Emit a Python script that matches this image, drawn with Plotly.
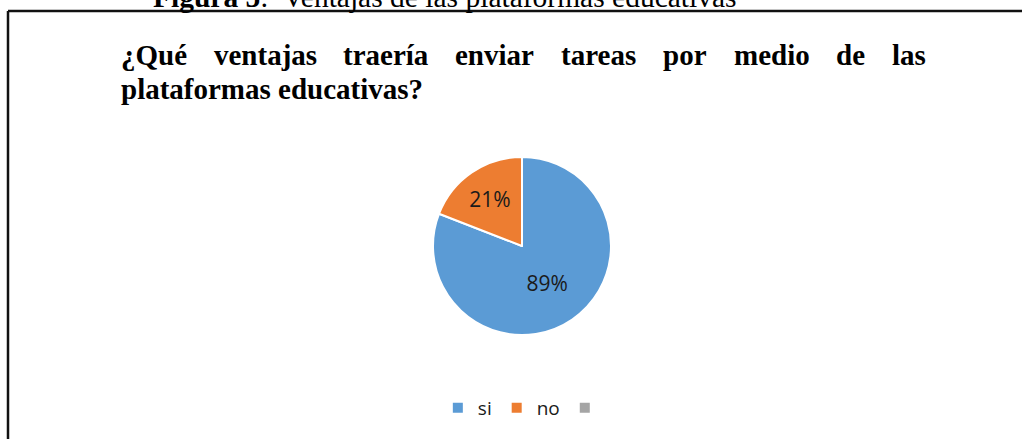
import plotly.graph_objects as go

# ---- data ----
labels = ["si", "no", " "]
values = [0.89, 0.21, 0]
colors = ["#5B9BD5", "#ED7D31", "#A5A5A5"]

title_line1 = ["¿Qué", "ventajas", "traería", "enviar", "tareas", "por", "medio", "de", "las"]
title_line1_x = [120, 213, 342, 454, 560, 662, 733, 835, 891]   # justified word positions (px)
title_line2 = "plataformas educativas?"
caption_bold = "Figura 5"
caption_rest = ":  Ventajas de las plataformas educativas"

W, H = 1022, 439


def px(x):
    return x / W


def py(y):
    return 1 - y / H


fig = go.Figure()
fig.add_trace(go.Pie(
    labels=labels,
    values=values,
    marker=dict(colors=colors, line=dict(color="white", width=2)),
    sort=False,
    direction="clockwise",
    rotation=0,
    texttemplate="%{value:.0%}",
    textposition="inside",
    insidetextorientation="horizontal",
    textfont=dict(family="Open Sans", size=21, color="#1a1a1a"),
    hoverinfo="label+percent",
    domain=dict(x=[px(522 - 89), px(522 + 89)], y=[py(335), py(157)]),
))

annotations = []
for word, x in zip(title_line1, title_line1_x):
    annotations.append(dict(
        text="<b>" + word + "</b>", x=px(x), y=py(55), xref="paper", yref="paper",
        xanchor="left", yanchor="middle", showarrow=False,
        font=dict(family="Liberation Serif", size=29, color="black"),
        borderpad=0,
    ))
annotations.append(dict(
    text="<b>" + title_line2 + "</b>", x=px(120), y=py(89), xref="paper", yref="paper",
    xanchor="left", yanchor="middle", showarrow=False,
    font=dict(family="Liberation Serif", size=29, color="black"),
    borderpad=0,
))
annotations.append(dict(
    text="<b>" + caption_bold + "</b>" + caption_rest, x=px(152), y=py(-3),
    xref="paper", yref="paper", xanchor="left", yanchor="middle", showarrow=False,
    font=dict(family="Liberation Serif", size=29.5, color="black"),
    borderpad=0,
))

shapes = [
    dict(type="line", xref="paper", yref="paper", x0=px(8), x1=1.0, y0=py(11), y1=py(11),
         line=dict(color="#111111", width=2.5)),
    dict(type="line", xref="paper", yref="paper", x0=px(8), x1=px(8), y0=py(11), y1=0,
         line=dict(color="#111111", width=2.5)),
]

fig.update_layout(
    width=W, height=H, autosize=False,
    margin=dict(l=0, r=0, t=0, b=0),
    paper_bgcolor="white", plot_bgcolor="white",
    showlegend=True,
    legend=dict(orientation="h", x=0.515, xanchor="center", y=py(408), yanchor="middle",
                font=dict(family="Open Sans", size=19, color="#1a1a1a"),
                itemwidth=30, traceorder="normal"),
    annotations=annotations,
    shapes=shapes,
)

fig.write_html(
    "out.html",
    config={"displayModeBar": False},
    post_script="document.body.style.margin='0';document.body.style.overflow='hidden';",
)
